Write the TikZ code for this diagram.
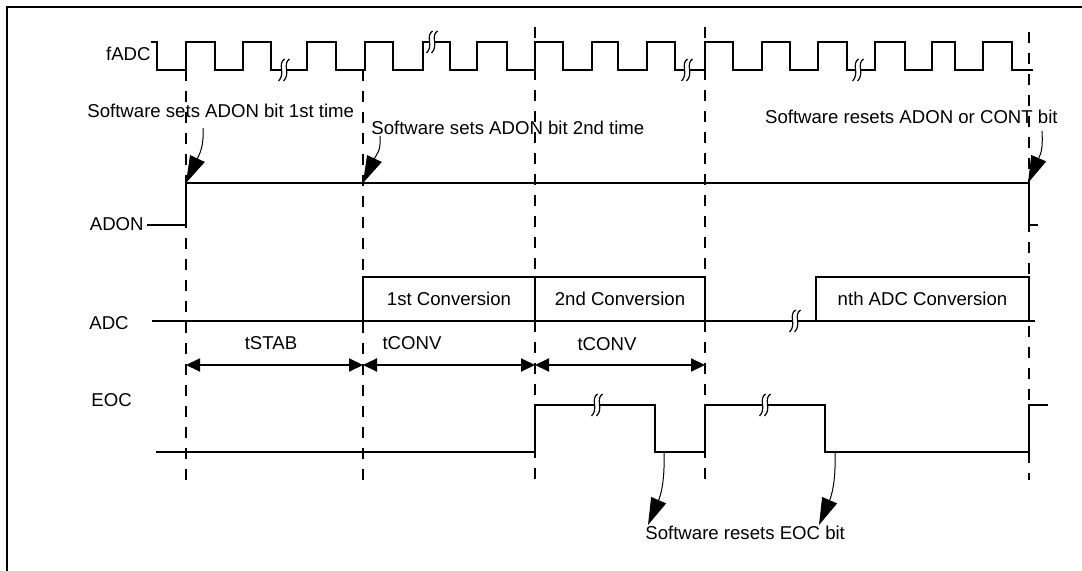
\documentclass[tikz,border=0pt]{standalone}
\usepackage{fontspec}
\setmainfont{Liberation Sans}
\usepackage{tikz}
\usetikzlibrary{arrows.meta,positioning,calc}
\tikzset{
  sig/.style={line width=1.3pt, line join=miter},
  guide/.style={line width=1.2pt, dash pattern=on 5.5pt off 5pt},
  frameline/.style={line width=1pt},
  lbl/.style={font=\fontsize{9.3}{11}\selectfont, inner sep=0pt},
  convbox/.style={rectangle, draw, line width=1.3pt,
    minimum height=22pt, inner sep=0pt,
    font=\fontsize{9.3}{11}\selectfont},
  callout/.style={-{Triangle[length=13.5pt,width=8pt]}, line width=0.5pt},
  dimarrow/.style={{Triangle[length=7pt,width=6.5pt]}-{Triangle[length=7pt,width=6.5pt]},
    line width=1pt},
  brk/.pic={
    \fill[white] (-3,-3) rectangle (3,3);
    \draw[line width=0.6pt] (0.5,-11) .. controls (-7,-6) and (2,4) .. (-5.5,11);
    \draw[line width=0.6pt] (5.5,-11) .. controls (-2,-6) and (7,4) .. (-0.5,11);
  },
}

\begin{document}
\begin{tikzpicture}[x=0.5pt, y=-0.5pt]
\useasboundingbox (0,0) rectangle (1082,571);
\draw[frameline] (1082,7) -- (7,7) -- (7,571);

% event guides
\foreach \x/\top in {186/70, 363/70, 535/27, 705/27, 1029/32}
  \draw[guide] (\x,\top) -- (\x,480);

% fADC clock
\node[lbl, anchor=east] (fadc) at (151,54) {fADC};
\draw[sig] (151,42) -- (157,42) -- (157,70)
  \foreach \r/\f in {186/215, 243/271, 307/336, 365/393, 423/450, 477/507,
                     535/563, 592/618, 647/675, 705/733, 762/790, 818/847,
                     875/905, 932/955, 983/1012}
    { -- (\r,70) -- (\r,42) -- (\f,42) -- (\f,70) } -- (1033,70);
\foreach \x/\y in {284/70, 432/42, 687/70, 858/70}
  \pic at (\x,\y) {brk};

% ADON
\node[lbl, anchor=east] (adon) at (144,224) {ADON};
\draw[sig] (147,225) -- (186,225) -- (186,183) -- (1029,183) -- (1029,225) -- (1038,225);
\coordinate (adonon) at (186,183);
\coordinate (adonagain) at (363,183);
\coordinate (adonoff) at (1028,183);

% ADC
\node[lbl, anchor=west] (adc) at (89,323) {ADC};
\draw[sig] (152,321) -- (816,321);
\draw[sig] (1029,321) -- (1035,321);
\node[convbox, minimum width=86pt] (conv1) at (449,299) {1st Conversion};
\node[convbox, minimum width=85pt] (conv2) at (620,299) {2nd Conversion};
\node[convbox, minimum width=106.5pt] (convn) at (922.5,299) {nth ADC Conversion};
\pic at (795,321) {brk};

% timing spans
\coordinate (d0) at (186,365);
\coordinate (d1) at (363,365);
\coordinate (d2) at (535,365);
\coordinate (d3) at (705,365);
\draw[dimarrow] (d0) -- (d1);
\draw[dimarrow] (d1) -- (d2);
\draw[dimarrow] (d2) -- (d3);
\node[lbl] (tstab) at (271,343) {tSTAB};
\node[lbl] (tconv1) at (412,343) {tCONV};
\node[lbl] (tconv2) at (607,344) {tCONV};

% EOC
\node[lbl, anchor=west] (eoc) at (91,400) {EOC};
\draw[sig] (156,452) -- (535,452) -- (535,405) -- (655,405) -- (655,452) -- (705,452)
  -- (705,405) -- (825,405) -- (825,452) -- (1029,452) -- (1029,405) -- (1048,405);
\pic at (597,405) {brk};
\pic at (765,405) {brk};
\coordinate (eocclr1) at (664,453);
\coordinate (eocclr2) at (835,453);

% software events
\node[lbl, anchor=west] (set1) at (87,111) {Software sets ADON bit 1st time};
\node[lbl, anchor=west] (set2) at (371,128) {Software sets ADON bit 2nd time};
\node[lbl, anchor=east] (reset) at (1058,117) {Software resets ADON or CONT bit};
\node[lbl, anchor=west] (clreoc) at (645,533) {Software resets EOC bit};
\coordinate (set1tail) at (203,128);
\coordinate (set2tail) at (380,136);
\coordinate (resettail) at (1042,131);
\coordinate (clrtip1) at (648,525);
\coordinate (clrtip2) at (819,525);
\draw[callout] (set1tail) .. controls +(1,18) and +(14,-30) .. (adonon);
\draw[callout] (set2tail) .. controls +(1,16) and +(14,-30) .. (adonagain);
\draw[callout] (resettail) .. controls +(1,18) and +(13,-30) .. (adonoff);
\draw[callout] (eocclr1) .. controls +(1,30) and +(12,-28) .. (clrtip1);
\draw[callout] (eocclr2) .. controls +(1,30) and +(12,-28) .. (clrtip2);
\end{tikzpicture}
\end{document}
